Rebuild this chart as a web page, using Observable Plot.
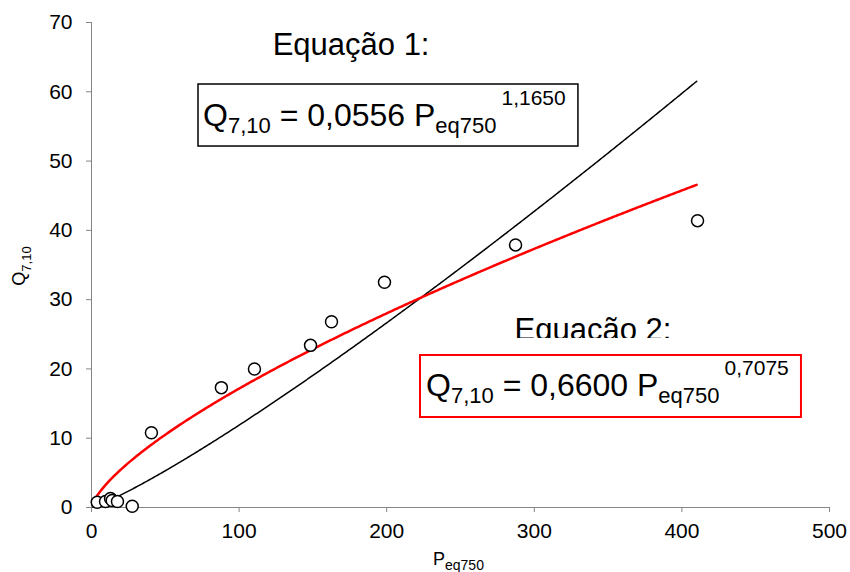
<!DOCTYPE html>
<html><head><meta charset="utf-8">
<script src="https://cdn.jsdelivr.net/npm/d3@7"></script>
<script src="https://cdn.jsdelivr.net/npm/@observablehq/plot@0.6"></script>
<style>
body{margin:0;background:#fff}
svg{font-family:"Liberation Sans",Arial,sans-serif}
</style>
</head><body><div id="chart"></div>
<script>
// Observed data (P_eq750 vs Q_7,10)
const peq750 = [3.9, 9.5, 12.9, 14.0, 17.6, 27.6, 40.6, 88.0, 110.4, 148.4, 162.6, 198.5, 287.3, 410.6];
const q710   = [0.76, 0.87, 1.3, 1.0, 0.87, 0.19, 10.8, 17.3, 20.0, 23.4, 26.8, 32.5, 37.9, 41.4];

// Tick labels
const xTicks = [0, 100, 200, 300, 400, 500];
const yTicks = [0, 10, 20, 30, 40, 50, 60, 70];

// Fitted power equations Q = a * P^b
const fitTitles = ["Equação 1:", "Equação 2:"];
const fitCoef = [0.0556, 0.6600];
const fitCoefText = ["0,0556", "0,6600"];
const fitExp = [1.1650, 0.7075];
const fitExpText = ["1,1650", "0,7075"];
const fitColors = ["black", "red"];
const fitXRange = [1, 410];

const points = peq750.map((p, i) => ({p, q: q710[i]}));
const curveX = d3.range(fitXRange[0], fitXRange[1] + 0.001, 1);
const curves = fitCoef.map((a, k) => curveX.map(x => ({x, y: a * Math.pow(x, fitExp[k])})));

const plot = Plot.plot({
  width: 850, height: 572,
  marginLeft: 91, marginRight: 21, marginTop: 22, marginBottom: 65,
  style: {fontFamily: '"Liberation Sans",Arial,sans-serif', background: "white", overflow: "visible"},
  x: {domain: [0, 500], label: null},
  y: {domain: [0, 70], label: null},
  marks: [
    Plot.ruleX([0], {stroke: "#868686", strokeWidth: 1}),
    Plot.ruleY([0], {stroke: "#868686", strokeWidth: 1}),
    Plot.axisX({ticks: xTicks, tickSize: 5, tickPadding: 11, stroke: "#868686", fill: "black", fontSize: 21, label: null}),
    Plot.axisY({ticks: yTicks, tickSize: 5, tickPadding: 14, stroke: "#868686", fill: "black", fontSize: 21, label: null}),
    Plot.line(curves[0], {x: "x", y: "y", stroke: fitColors[0], strokeWidth: 1.5}),
    Plot.line(curves[1], {x: "x", y: "y", stroke: fitColors[1], strokeWidth: 2.5}),
    Plot.dot(points, {x: "p", y: "q", r: 6, stroke: "black", fill: "white", strokeWidth: 1.5})
  ]
});
document.getElementById("chart").appendChild(plot);

const svg = d3.select(plot);
const sx = plot.scale("x"), sy = plot.scale("y");
const X = v => sx.apply(v), Y = v => sy.apply(v);
const ann = svg.append("g").style("white-space", "pre").attr("text-anchor", "start");

// clip for the partially hidden second title
svg.append("defs").append("clipPath").attr("id", "clip2")
  .append("rect").attr("x", 0).attr("y", 0).attr("width", 850).attr("height", Y(24.39));

function title(k, cx, cy, clip) {
  const t = ann.append("text").attr("x", X(cx)).attr("y", Y(cy))
    .attr("text-anchor", "middle").attr("font-size", 31).attr("fill", "black").text(fitTitles[k]);
  if (clip) t.attr("clip-path", "url(#clip2)");
}
function box(k, x0, x1, y0, y1, sw) {
  ann.append("rect").attr("x", X(x0)).attr("y", Y(y0))
    .attr("width", X(x1) - X(x0)).attr("height", Y(y1) - Y(y0))
    .attr("fill", "white").attr("stroke", fitColors[k]).attr("stroke-width", sw);
}
function equation(k, x, y) {
  const t = ann.append("text").attr("x", X(x)).attr("y", Y(y)).attr("text-anchor", "start")
    .attr("font-size", 32).attr("fill", "black");
  t.append("tspan").text("Q");
  t.append("tspan").attr("font-size", 22).attr("dy", 7).text("7,10");
  t.append("tspan").attr("dy", -7).text(" = " + fitCoefText[k] + " P");
  t.append("tspan").attr("font-size", 22).attr("dy", 7).text("eq750");
  t.append("tspan").attr("font-size", 21).attr("dy", -28).attr("dx", 5).text(fitExpText[k]);
}

title(0, 176.2, 65.3, false);
box(0, 72.5, 329.9, 61.05, 52.1, 1.5);
equation(0, 75.9, 55.0);

title(1, 340.1, 24.1, true);
box(1, 222.9, 481.0, 21.94, 12.99, 2);
equation(1, 227.0, 16.0);

// Axis titles
const yl = ann.append("text").attr("transform", "translate(25,266) rotate(-90)")
  .attr("text-anchor", "middle").attr("font-size", 18).attr("fill", "black");
yl.append("tspan").text("Q");
yl.append("tspan").attr("font-size", 13).attr("dy", 6).text("7,10");

const xl = ann.append("text").attr("x", 433).attr("y", 565).attr("text-anchor", "start")
  .attr("font-size", 18).attr("fill", "black");
xl.append("tspan").text("P");
xl.append("tspan").attr("font-size", 14).attr("dy", 5).text("eq750");
</script>
</body></html>
